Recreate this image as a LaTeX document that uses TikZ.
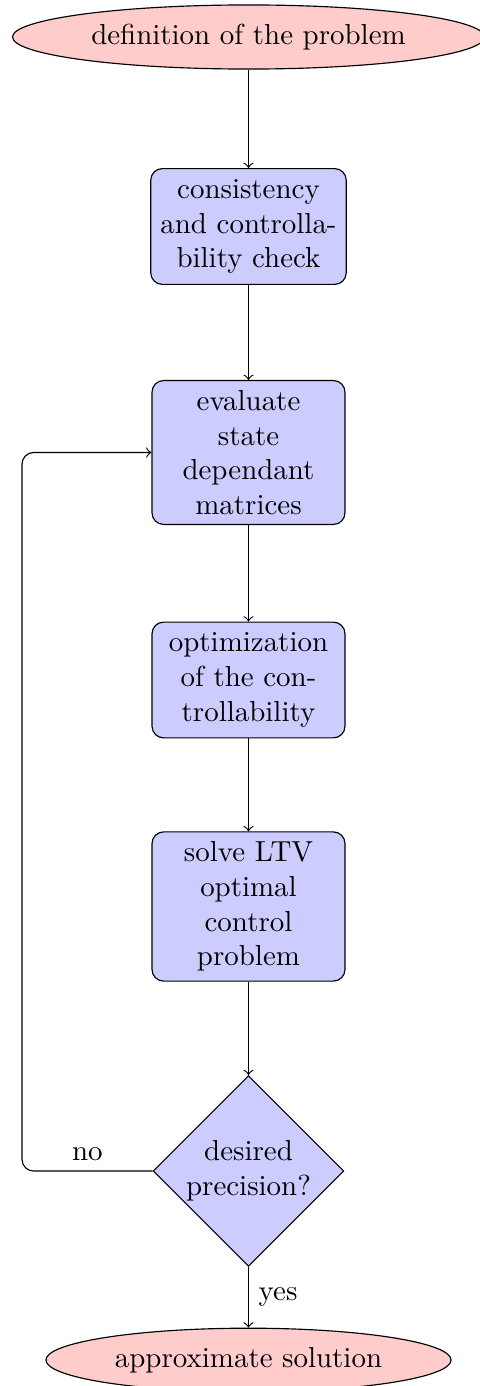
\documentclass[tikz,border=0pt]{standalone}
\usetikzlibrary{shapes.geometric}
\begin{document}
\begin{tikzpicture}[x=0.3455pt,y=-0.3455pt,
  blockbox/.style={rectangle, draw, fill=blue!20, align=center, rounded corners=4pt, minimum width=66.67pt, minimum height=40pt, inner sep=3.333pt},
  cloudnode/.style={ellipse, draw, fill=red!20, minimum height=2em},
  decision/.style={diamond, draw, fill=blue!20, text width=45pt, align=center, inner sep=0pt},
  conn/.style={draw, ->}]
\useasboundingbox (0,0) rectangle (479,1386);
\node[cloudnode] (init) at (248.5,37) {definition of the problem};
\node[blockbox] (check) at (248.5,226.5) {consistency\\and controlla-\\bility check};
\node[blockbox] (eval) at (248.5,452.5) {evaluate\\state\\dependant\\matrices};
\node[blockbox] (opt) at (248.5,680) {optimization\\of the con-\\trollability};
\node[blockbox] (solve) at (248.5,906.5) {solve LTV\\optimal\\control\\problem};
\node[decision] (dec) at (248.5,1171) {desired\\precision?};
\node[cloudnode] (stop) at (248.5,1360) {approximate solution};
\coordinate (loopx) at (22,1171);
\draw[conn] (init) -- (check);
\draw[conn] (check) -- (eval);
\draw[conn] (eval) -- (opt);
\draw[conn] (opt) -- (solve);
\draw[conn] (solve) -- (dec);
\draw[conn] (dec) -- node[right] {yes} (stop);
\draw[conn, rounded corners=4pt] (dec.west) -- node[above] {no} (loopx) |- (eval.west);
\end{tikzpicture}
\end{document}
